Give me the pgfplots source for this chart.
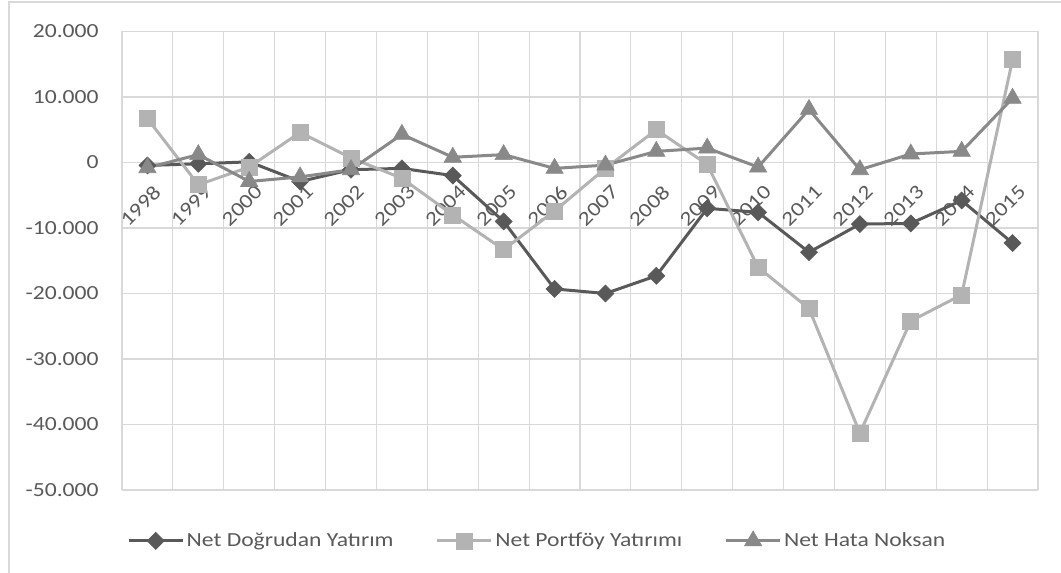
\documentclass[border=0pt]{standalone}
\usepackage{fontspec}
\setmainfont{Carlito}[FakeStretch=1.18]
\usepackage{pgfplots}
\pgfplotsset{compat=1.18}

\definecolor{dogrudan}{HTML}{595959}
\definecolor{portfoy}{HTML}{B3B3B3}
\definecolor{hata}{HTML}{898989}
\definecolor{gridc}{HTML}{D9D9D9}
\definecolor{txt}{HTML}{595959}

\begin{document}
\begin{tikzpicture}
% page = 1061x573 px at 0.5pt per px
\path[use as bounding box] (-61pt,-41.5pt) rectangle (469.5pt,245pt);
\draw[gridc, line width=0.6pt] (-56.5pt,-45pt) -- (-56.5pt,244pt) -- (475pt,244pt);
\begin{axis}[
    scale only axis,
    width=458pt, height=229.25pt,
    xmin=0.5, xmax=18.5,
    ymin=-50000, ymax=20000,
    axis x line=middle, axis y line=left,
    axis line style={gridc, line width=0.6pt, -},
    hide obscured x ticks=false, hide obscured y ticks=false,
    xtick={1,...,18},
    xticklabels={1998,1999,2000,2001,2002,2003,2004,2005,2006,2007,2008,2009,2010,2011,2012,2013,2014,2015},
    minor xtick={0.5,1.5,...,18.5},
    ytick={-50000,-40000,...,20000},
    major tick length=0pt, minor tick length=0pt,
    xmajorgrids=false, xminorgrids=true, ymajorgrids=true,
    grid style={gridc, line width=0.6pt},
    minor grid style={gridc, line width=0.6pt},
    scaled y ticks=false,
    tick label style={font=\fontsize{10}{12}\selectfont, text=txt},
    y tick label style={/pgf/number format/fixed, /pgf/number format/precision=0,
        /pgf/number format/1000 sep={.}, /pgf/number format/assume math mode=true,
        inner sep=0pt, anchor=east, xshift=-11.5pt},
    x tick label style={inner sep=0pt, anchor=north east, yshift=-10.5pt, xshift=2.5pt, rotate=45},
    legend columns=3,
    legend style={at={(0.4536,-0.111)}, anchor=center, draw=none, fill=none,
        font=\fontsize{10}{12}\selectfont, text=txt,
        nodes={inner sep=1.2pt},
        /tikz/every even column/.append style={column sep=20pt}},
    legend image code/.code={\draw[#1, mark repeat=2, mark phase=2] plot coordinates {(0pt,0pt) (13.5pt,0pt) (27pt,0pt)};},
]
\addplot[dogrudan, line width=1.5pt, mark=square*, mark size=3pt,
    mark options={solid, rotate=45, line width=0.3pt}] coordinates {
    (1,-450) (2,-200) (3,100) (4,-2900) (5,-1100) (6,-900) (7,-2000) (8,-9000) (9,-19300)
    (10,-20000) (11,-17300) (12,-7000) (13,-7600) (14,-13700) (15,-9400) (16,-9300) (17,-5800) (18,-12300)
};
\addplot[portfoy, line width=1.5pt, mark=square*, mark size=4pt,
    mark options={solid, line width=0.3pt}] coordinates {
    (1,6700) (2,-3400) (3,-700) (4,4600) (5,700) (6,-2400) (7,-8000) (8,-13300) (9,-7400)
    (10,-900) (11,5000) (12,-300) (13,-16000) (14,-22300) (15,-41300) (16,-24200) (17,-20200) (18,15700)
};
\addplot[hata, line width=1.5pt, mark=triangle*, mark size=5pt,
    mark options={solid, line width=0.3pt}] coordinates {
    (1,-800) (2,1200) (3,-2900) (4,-2200) (5,-1100) (6,4300) (7,800) (8,1200) (9,-900)
    (10,-400) (11,1700) (12,2200) (13,-700) (14,8100) (15,-1100) (16,1300) (17,1700) (18,9800)
};
\legend{Net Doğrudan Yatırım, Net Portföy Yatırımı, Net Hata Noksan}
\end{axis}
\end{tikzpicture}
\end{document}
